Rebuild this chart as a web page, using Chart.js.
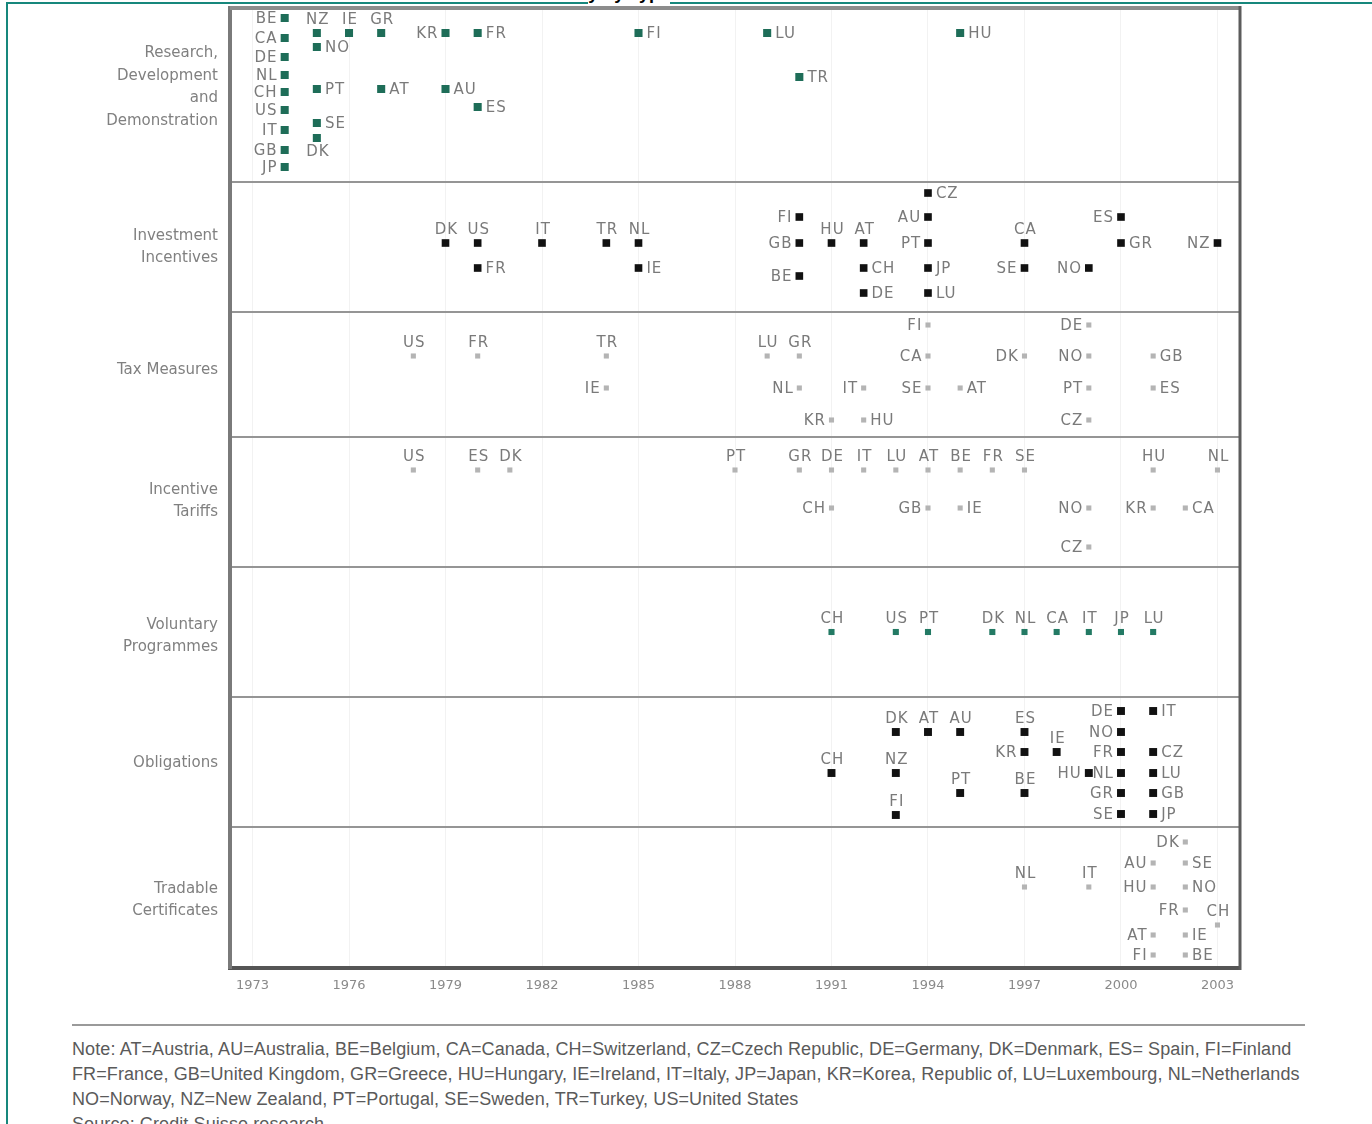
<!DOCTYPE html>
<html>
<head>
<meta charset="utf-8">
<script src="https://cdn.jsdelivr.net/npm/chart.js@4.4.1/dist/chart.umd.min.js"></script>
<style>
  body { margin: 0; background: #fff; width: 1372px; height: 1124px; position: relative; overflow: hidden; }
  #wrap { position: absolute; left: 0; top: 0; width: 1372px; height: 1000px; }
  .frame-top { position: absolute; left: 6px; top: 2px; width: 1366px; height: 2px; background: #17877c; }
  .frame-left { position: absolute; left: 6px; top: 2px; width: 2px; height: 1122px; background: #17877c; }
  .title { position: absolute; left: 588px; top: 0; width: 82px; height: 8px; overflow: hidden; background: #fff; }
  .title span { position: absolute; right: 0; top: -17px; font: bold 18px "Liberation Sans", Arial, sans-serif; white-space: nowrap; color: #000; }
  .rule { position: absolute; left: 72px; top: 1024px; width: 1233px; height: 2px; background: #9a9a9a; }
  .note { position: absolute; left: 72px; top: 1037px; font: 18px "Liberation Sans", Arial, sans-serif; letter-spacing: 0.1px; color: #5a5a5a; line-height: 25px; white-space: nowrap; }
</style>
</head>
<body>
<div class="frame-top"></div>
<div class="frame-left"></div>
<div class="title"><span>Renewable Energy Technology by Type</span></div>
<div id="wrap"><canvas id="myChart" width="1372" height="1000"></canvas></div>
<div class="rule"></div>
<div class="note">
  <div>Note: AT=Austria, AU=Australia, BE=Belgium, CA=Canada, CH=Switzerland, CZ=Czech Republic, DE=Germany, DK=Denmark, ES= Spain, FI=Finland</div>
  <div>FR=France, GB=United Kingdom, GR=Greece, HU=Hungary, IE=Ireland, IT=Italy, JP=Japan, KR=Korea, Republic of, LU=Luxembourg, NL=Netherlands</div>
  <div>NO=Norway, NZ=New Zealand, PT=Portugal, SE=Sweden, TR=Turkey, US=United States</div>
  <div>Source: Credit Suisse research</div>
</div>
<script>
const ctx = document.getElementById("myChart");

// policy groups, top to bottom
const categories = [
  ["Research,", "Development", "and", "Demonstration"],
  ["Investment", "Incentives"],
  ["Tax Measures"],
  ["Incentive", "Tariffs"],
  ["Voluntary", "Programmes"],
  ["Obligations"],
  ["Tradable", "Certificates"]
];
const bandEdges = [96, 78.6, 65.6, 53.1, 40.1, 27.1, 14.1, 0];
const labelLevels = [88.1, 72.1, 59.8, 46.7, 33.2, 20.5, 6.8];
const yearTicks = [1973, 1976, 1979, 1982, 1985, 1988, 1991, 1994, 1997, 2000, 2003];

// Research, Development and Demonstration
const rdCodes = ["BE","CA","DE","NL","CH","US","IT","GB","JP","NZ","NO","PT","SE","DK","IE","GR","AT","KR","AU","FR","ES","FI","LU","TR","HU"];
const rdYears = [1974,1974,1974,1974,1974,1974,1974,1974,1974,1975,1975,1975,1975,1975,1976,1977,1977,1979,1979,1980,1980,1985,1989,1990,1995];
const rdLevels = [95.0,93.0,91.1,89.3,87.6,85.8,83.8,81.8,80.1,93.5,92.1,87.9,84.5,83.0,93.5,93.5,87.9,93.5,87.9,93.5,86.1,93.5,93.5,89.1,93.5];
const rdSides = ["left","left","left","left","left","left","left","left","left","above","right","right","right","below","above","above","right","left","right","right","right","right","right","right","right"];

// Investment Incentives
const invCodes = ["DK","US","IT","TR","NL","FR","IE","FI","GB","BE","HU","AT","CH","DE","CZ","AU","PT","JP","LU","CA","SE","NO","ES","GR","NZ"];
const invYears = [1979,1980,1982,1984,1985,1980,1985,1990,1990,1990,1991,1992,1992,1992,1994,1994,1994,1994,1994,1997,1997,1999,2000,2000,2003];
const invLevels = [72.5,72.5,72.5,72.5,72.5,70.0,70.0,75.1,72.5,69.2,72.5,72.5,70.0,67.5,77.5,75.1,72.5,70.0,67.5,72.5,70.0,70.0,75.1,72.5,72.5];
const invSides = ["above","above","above","above","above","right","right","left","left","left","above","above","right","right","right","left","left","right","right","above","left","left","left","right","left"];

// Tax Measures
const taxCodes = ["US","FR","TR","IE","LU","GR","NL","KR","HU","IT","FI","CA","SE","AT","DK","DE","NO","PT","CZ","GB","ES"];
const taxYears = [1978,1980,1984,1984,1989,1990,1990,1991,1992,1992,1994,1994,1994,1995,1997,1999,1999,1999,1999,2001,2001];
const taxLevels = [61.2,61.2,61.2,58.0,61.2,61.2,58.0,54.8,54.8,58.0,64.3,61.2,58.0,58.0,61.2,64.3,61.2,58.0,54.8,61.2,58.0];
const taxSides = ["above","above","above","left","above","above","left","left","right","left","left","left","left","right","left","left","left","left","left","right","right"];

// Incentive Tariffs
const tarCodes = ["US","ES","DK","PT","GR","DE","IT","LU","AT","BE","FR","SE","HU","NL","CH","GB","IE","NO","KR","CA","CZ"];
const tarYears = [1978,1980,1981,1988,1990,1991,1992,1993,1994,1995,1996,1997,2001,2003,1991,1994,1995,1999,2001,2002,1999];
const tarLevels = [49.8,49.8,49.8,49.8,49.8,49.8,49.8,49.8,49.8,49.8,49.8,49.8,49.8,49.8,46.0,46.0,46.0,46.0,46.0,46.0,42.1];
const tarSides = ["above","above","above","above","above","above","above","above","above","above","above","above","above","above","left","left","right","left","left","right","left"];

// Voluntary Programmes
const volCodes = ["CH","US","PT","DK","NL","CA","IT","JP","LU"];
const volYears = [1991,1993,1994,1996,1997,1998,1999,2000,2001];
const volLevels = [33.6,33.6,33.6,33.6,33.6,33.6,33.6,33.6,33.6];
const volSides = ["above","above","above","above","above","above","above","above","above"];

// Obligations
const oblCodes = ["CH","DK","NZ","FI","AT","AU","PT","ES","KR","BE","IE","HU","DE","NO","FR","NL","GR","SE","IT","CZ","LU","GB","JP"];
const oblYears = [1991,1993,1993,1993,1994,1995,1995,1997,1997,1997,1998,1999,2000,2000,2000,2000,2000,2000,2001,2001,2001,2001,2001];
const oblLevels = [19.5,23.6,19.5,15.3,23.6,23.6,17.5,23.6,21.6,17.5,21.6,19.5,25.7,23.6,21.6,19.5,17.5,15.4,25.7,21.6,19.5,17.5,15.4];
const oblSides = ["above","above","above","above","above","above","above","above","left","above","above","left","left","left","left","left","left","left","right","right","right","right","right"];

// Tradable Certificates
const cerCodes = ["DK","AU","SE","NL","IT","HU","NO","FR","CH","AT","IE","FI","BE"];
const cerYears = [2002,2001,2002,1997,1999,2001,2002,2002,2003,2001,2002,2001,2002];
const cerLevels = [12.6,10.5,10.5,8.1,8.1,8.1,8.1,5.8,4.3,3.3,3.3,1.3,1.3];
const cerSides = ["left","left","right","above","above","left","right","left","above","left","right","left","right"];

const markerColors = ["#1e6d58", "#111111", "#b4b4b4", "#b4b4b4", "#237a64", "#111111", "#b4b4b4"];
const markerRadius = [5.7, 5.4, 3.6, 3.6, 4.3, 5.6, 3.6];

const groups = [
  [rdCodes, rdYears, rdLevels, rdSides],
  [invCodes, invYears, invLevels, invSides],
  [taxCodes, taxYears, taxLevels, taxSides],
  [tarCodes, tarYears, tarLevels, tarSides],
  [volCodes, volYears, volLevels, volSides],
  [oblCodes, oblYears, oblLevels, oblSides],
  [cerCodes, cerYears, cerLevels, cerSides]
];

const datasets = groups.map(([codes, yrs, lvls, sides], i) => ({
  label: categories[i].join(" "),
  data: yrs.map((y, j) => ({ x: y, y: lvls[j] })),
  codes: codes,
  sides: sides,
  pointStyle: "rect",
  pointRadius: markerRadius[i],
  pointBackgroundColor: markerColors[i],
  pointBorderWidth: 0,
  showLine: false,
  clip: false
}));

// country codes next to each marker
const codeLabels = {
  id: "codeLabels",
  afterDatasetsDraw(chart) {
    const c = chart.ctx;
    c.save();
    c.font = '15px "DejaVu Sans", sans-serif';
    c.letterSpacing = "1px";
    c.fillStyle = "#7a7a7a";
    chart.data.datasets.forEach((ds, di) => {
      const meta = chart.getDatasetMeta(di);
      const r = ds.pointRadius * 0.72;
      meta.data.forEach((pt, i) => {
        const side = ds.sides[i];
        const code = ds.codes[i];
        if (side === "left") {
          c.textAlign = "right"; c.textBaseline = "middle";
          c.fillText(code, pt.x - r - 3, pt.y + 1);
        } else if (side === "right") {
          c.textAlign = "left"; c.textBaseline = "middle";
          c.fillText(code, pt.x + r + 4, pt.y + 1);
        } else if (side === "above") {
          c.textAlign = "center"; c.textBaseline = "alphabetic";
          c.fillText(code, pt.x + 1, pt.y - 9);
        } else {
          c.textAlign = "center"; c.textBaseline = "top";
          c.fillText(code, pt.x + 1, pt.y + 7);
        }
      });
    });
    c.restore();
  }
};

// top and right edges of the plot frame
const frame = {
  id: "frame",
  afterDraw(chart) {
    const c = chart.ctx, a = chart.chartArea;
    c.save();
    c.strokeStyle = "#8c8c8c"; c.lineWidth = 4;
    c.beginPath(); c.moveTo(a.left, a.top); c.lineTo(a.right, a.top); c.stroke();
    c.strokeStyle = "#5c5c5c"; c.lineWidth = 3;
    c.beginPath(); c.moveTo(a.right, a.top - 2); c.lineTo(a.right, a.bottom + 2); c.stroke();
    c.restore();
  }
};

const innerEdges = bandEdges.slice(1, -1);

new Chart(ctx, {
  type: "scatter",
  data: { datasets: datasets },
  options: {
    responsive: false,
    animation: false,
    events: [],
    layout: { padding: { top: 8, right: 132, left: 0, bottom: 0 } },
    plugins: { legend: { display: false }, tooltip: { enabled: false } },
    scales: {
      x: {
        type: "linear",
        min: 1972.3,
        max: 2003.7,
        afterBuildTicks: s => { s.ticks = yearTicks.map(v => ({ value: v })); },
        afterFit: s => { s.height = 32; s.paddingLeft = 0; s.paddingRight = 0; },
        border: { color: "#555", width: 4 },
        grid: { color: "rgba(0,0,0,0.05)", drawTicks: false },
        ticks: {
          autoSkip: false,
          maxRotation: 0,
          padding: 10,
          color: "#8a8a8a",
          font: { family: '"DejaVu Sans", sans-serif', size: 13 },
          callback: v => String(v)
        }
      },
      y: {
        type: "linear",
        min: 0,
        max: 96,
        afterBuildTicks: s => {
          s.ticks = innerEdges.concat(labelLevels).sort((a, b) => a - b).map(v => ({ value: v }));
        },
        afterFit: s => { s.width = 230; s.paddingTop = 0; s.paddingBottom = 0; },
        border: { color: "#7a7a7a", width: 4 },
        grid: {
          drawTicks: false,
          lineWidth: 2,
          color: c => innerEdges.includes(c.tick.value) ? "#959595" : "rgba(0,0,0,0)"
        },
        ticks: {
          autoSkip: false,
          padding: 12,
          color: "#808080",
          font: { family: '"DejaVu Sans", sans-serif', size: 15, lineHeight: 1.5 },
          callback: v => {
            const k = labelLevels.indexOf(v);
            return k >= 0 ? categories[k] : "";
          }
        }
      }
    }
  },
  plugins: [codeLabels, frame]
});
</script>
</body>
</html>
